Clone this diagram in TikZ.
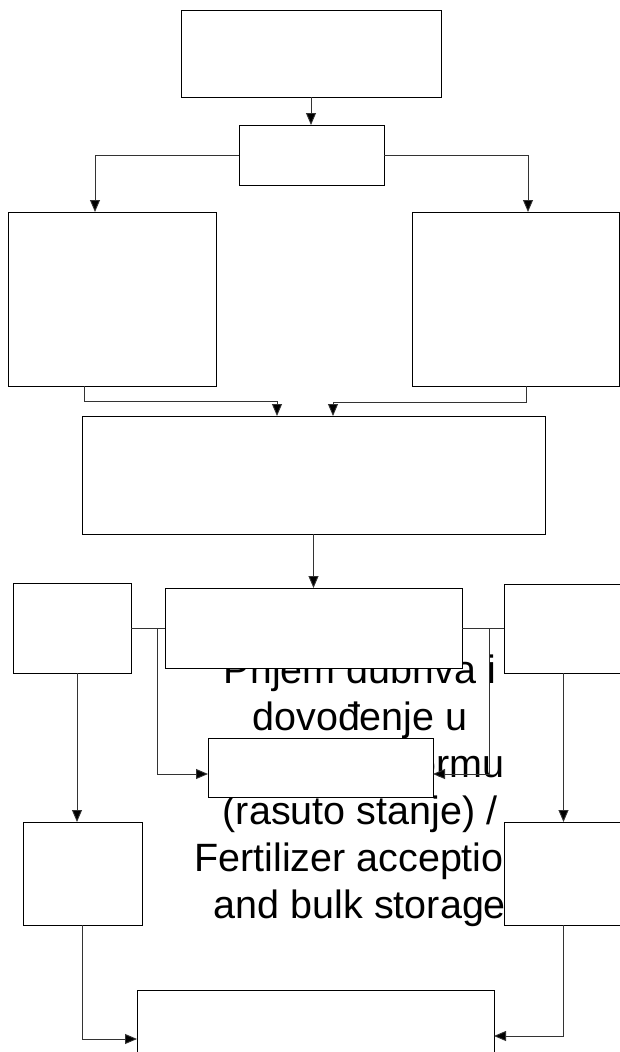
\documentclass[tikz,border=0pt]{standalone}
\usepackage{fontspec}
\setmainfont{Liberation Sans}
\usetikzlibrary{arrows.meta}
\begin{document}
\begin{tikzpicture}[x=1pt,y=-1pt,
  box/.style={draw=black, line width=1pt, fill=white, rectangle, inner sep=0pt, outer sep=0pt},
  link/.style={draw=black!80, line width=0.9pt},
  arr/.style={link, -{Triangle[length=12pt,width=10pt,fill=black]}},
  label/.style={font=\fontsize{39.5}{47}\selectfont, align=center, inner sep=0pt},
]
\useasboundingbox (0,0) rectangle (620,1052);
\clip (0,0) rectangle (620,1052);

% caption text, partly covered by the boxes drawn afterwards
\node[label, anchor=base] (txt) at (360,918)
  {Prijem đubriva i\\dovođenje u\\\hphantom{skladišnu }\hspace{13pt}formu\\(rasuto stanje) /\\Fertilizer acception\\and bulk storage};

% boxes
\node[box, minimum width=260pt, minimum height=87pt]  (top)  at (311,53.5) {};
\node[box, minimum width=145pt, minimum height=60pt]  (sec)  at (311.5,155) {};
\node[box, minimum width=208pt, minimum height=174pt] (L1)   at (112,299) {};
\node[box, minimum width=207pt, minimum height=174pt] (R1)   at (515.5,299) {};
\node[box, minimum width=463pt, minimum height=118pt] (main) at (313.5,475) {};
\node[box, minimum width=118pt, minimum height=90pt]  (ls)   at (72,628) {};
\node[box, minimum width=297pt, minimum height=80pt]  (cb)   at (313.5,628) {};
\node[box, minimum width=126pt, minimum height=89pt]  (rs)   at (567,628.5) {};
\node[box, minimum width=225pt, minimum height=59pt]  (mid)  at (320.5,767.5) {};
\node[box, minimum width=119pt, minimum height=103pt] (lls)  at (82.5,873.5) {};
\node[box, minimum width=126pt, minimum height=103pt] (lrs)  at (567,873.5) {};
\node[box, minimum width=357pt, minimum height=80pt]  (bot)  at (315.5,1030) {};

% connectors
\draw[arr] (top.south) -- (top.south |- sec.north);
\draw[arr] (sec.west) -| ([xshift=-17pt]L1.north);
\draw[arr] (sec.east) -| ([xshift=12.5pt]R1.north);
\draw[arr] ([xshift=-28pt]L1.south) -- ++(0,15) -| ([xshift=-36.5pt]main.north);
\draw[arr] ([xshift=10.5pt]R1.south) -- ++(0,16) -| ([xshift=19.5pt]main.north);
\draw[arr] (main.south) -- (main.south |- cb.north);
\draw[link] (ls.east) -- (cb.west);
\draw[link] (cb.east) -- (cb.east -| rs.west);
\draw[arr] ([xshift=-8pt]cb.west) |- ([yshift=-6.5pt]mid.west);
\draw[arr] ([xshift=27pt]cb.east) |- ([yshift=-6.5pt]mid.east);
\draw[arr] ([xshift=5pt]ls.south) -- ([xshift=5pt]ls.south |- lls.north);
\draw[arr] ([xshift=-3.5pt]rs.south) -- ([xshift=-3.5pt]rs.south |- lrs.north);
\draw[arr] (lls.south) |- ([yshift=-9pt]bot.west);
\draw[arr] ([xshift=-4pt]lrs.south) |- ([yshift=-6pt]bot.east);
\end{tikzpicture}
\end{document}
